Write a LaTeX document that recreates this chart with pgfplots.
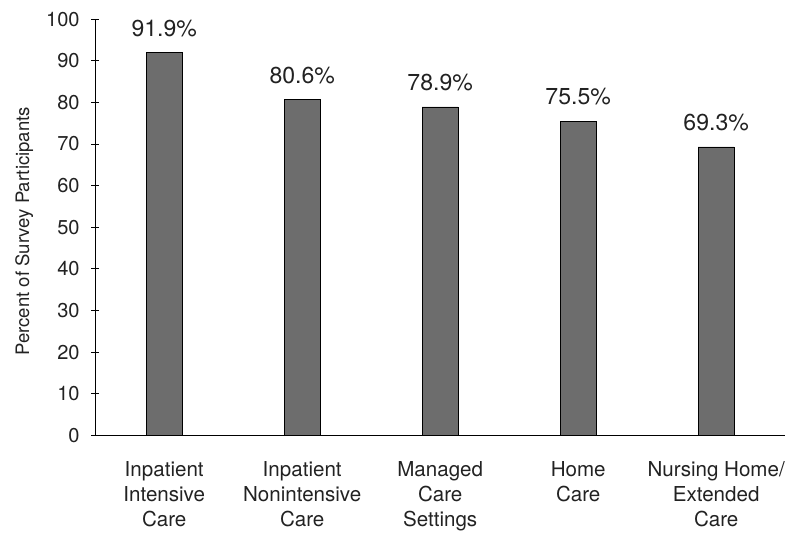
\documentclass[border=0pt]{standalone}
\usepackage{pgfplots}
\pgfplotsset{compat=1.18}
\usepackage{fontspec}
\setmainfont{TeX Gyre Heros}
\definecolor{barfill}{HTML}{6D6D6D}
\definecolor{txt}{HTML}{222222}

\begin{document}
\begin{tikzpicture}
\begin{axis}[
    scale only axis,
    width=688pt, height=415pt,
    xmin=0, xmax=5,
    ymin=0, ymax=100,
    ytick={0,10,...,100},
    xtick={0.5,1.5,2.5,3.5,4.5},
    xticklabels={Inpatient\\Intensive\\Care, Inpatient\\Nonintensive\\Care, Managed\\Care\\Settings, Home\\Care, Nursing Home/\\Extended\\Care},
    minor xtick={0,1,...,5},
    xtick style={draw=none},
    minor x tick style={black, thick},
    y tick style={black, thick},
    major tick length=8pt,
    minor tick length=13pt,
    tick align=outside,
    axis x line=bottom,
    axis y line=left,
    axis line style={black, thick, -},
    x tick label style={font=\fontsize{20.5}{24.5}\selectfont, align=center, text=txt, yshift=-15pt},
    y tick label style={font=\fontsize{20}{22}\selectfont, text=txt, xshift=-8pt},
    /pgf/number format/assume math mode=true,
    ylabel={Percent of Survey Participants},
    ylabel style={font=\fontsize{18.5}{20}\selectfont, text=txt, at={(axis description cs:-0.103,0.49)}, anchor=center},
    ybar, bar width=36pt,
    nodes near coords={\pgfmathprintnumber[fixed,precision=1,fixed zerofill]{\pgfplotspointmeta}\%},
    every node near coord/.append style={font=\fontsize{23}{25}\selectfont, text=txt, anchor=south, yshift=12pt},
    clip=false,
]
\addplot[fill=barfill, draw=black, thick] coordinates {
    (0.5,91.9) (1.5,80.6) (2.5,78.9) (3.5,75.5) (4.5,69.3)
};
\path (axis description cs:-0.138,1.046) (axis description cs:1.007,0.5);
\end{axis}
\end{tikzpicture}
\end{document}
